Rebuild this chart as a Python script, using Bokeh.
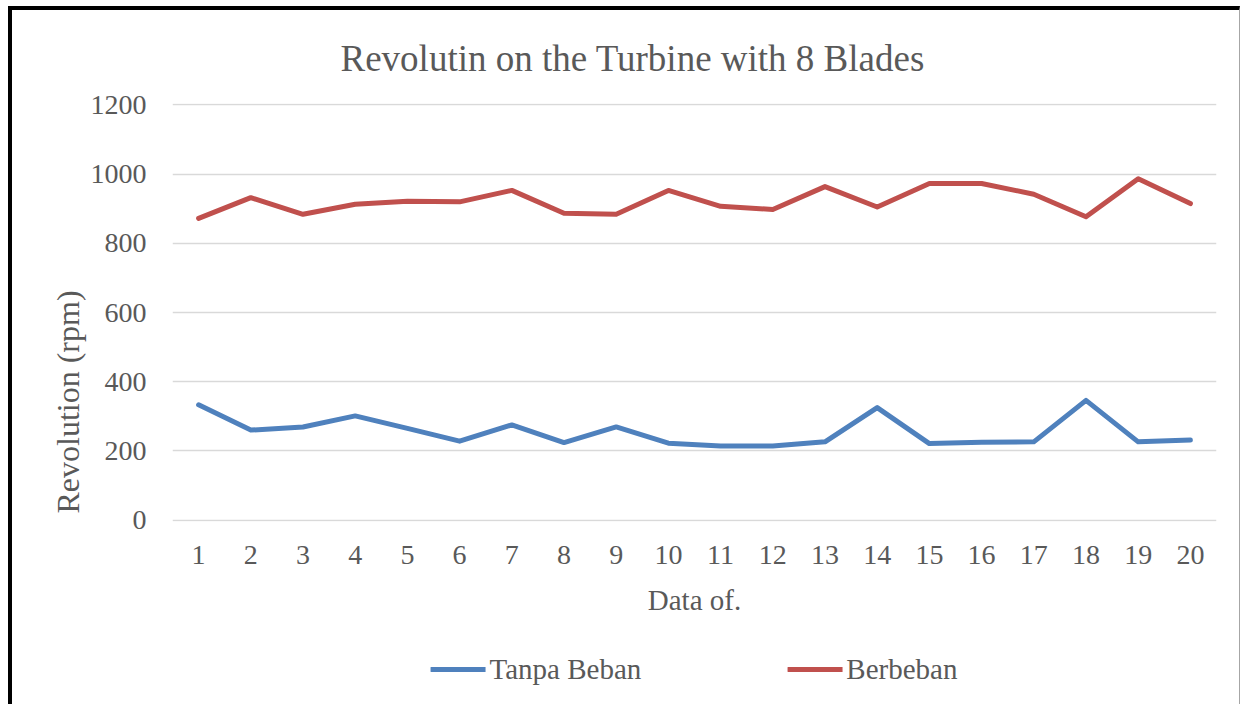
from bokeh.plotting import figure
from bokeh.models import Range1d, FixedTicker, Legend, LegendItem, Title
from bokeh.layouts import column
from bokeh.embed import file_html
from bokeh.resources import INLINE

# ---- data ----
data_no = list(range(1, 21))
x_tick_labels = [str(i) for i in data_no]
tanpa_beban = [333, 260, 269, 301, 265, 228, 275, 224, 269, 222,
               214, 214, 226, 325, 221, 225, 226, 346, 226, 231]
berbeban = [872, 932, 884, 913, 922, 920, 953, 887, 884, 953,
            907, 898, 964, 905, 973, 973, 942, 877, 987, 915]
y_ticks = [0, 200, 400, 600, 800, 1000, 1200]
series_names = ["Tanpa Beban", "Berbeban"]
series_colors = ["#4F81BD", "#C0504D"]
y_title = "Revolution (rpm)"
x_title = "Data of."
chart_title = "Revolutin on the Turbine with 8 Blades"

FONT = "Liberation Serif"
TXT = "#595959"

p = figure(width=1227, height=628, output_backend="svg", toolbar_location=None,
           x_range=Range1d(0.5, 20.5), y_range=Range1d(-4.3, 1204.3),
           min_border_left=160, min_border_right=23, min_border_top=93,
           min_border_bottom=117, title=chart_title)

p.outline_line_color = None
p.background_fill_color = "white"
p.border_fill_color = "white"

p.title.text_font = FONT
p.title.text_font_size = "37px"
p.title.text_font_style = "normal"
p.title.text_color = TXT
p.title.align = "left"
p.title.offset = 168
p.title.standoff = 50

# axes
p.xaxis.ticker = FixedTicker(ticks=data_no)
p.xaxis.major_label_overrides = {i: lab for i, lab in zip(data_no, x_tick_labels)}
p.yaxis.ticker = FixedTicker(ticks=y_ticks)
for ax in (p.xaxis[0], p.yaxis[0]):
    ax.axis_line_color = None
    ax.major_tick_line_color = None
    ax.minor_tick_line_color = None
    ax.major_tick_out = 0
    ax.major_tick_in = 0
    ax.minor_tick_out = 0
    ax.minor_tick_in = 0
    ax.major_label_text_font = FONT
    ax.major_label_text_font_size = "28px"
    ax.major_label_text_color = TXT
    ax.axis_label_text_font = FONT
    ax.axis_label_text_font_style = "normal"
    ax.axis_label_text_color = TXT

p.xaxis.major_label_standoff = 24
p.yaxis.major_label_standoff = 26
p.xaxis.axis_label = x_title
p.xaxis.axis_label_text_font_size = "29px"
p.xaxis.axis_label_standoff = 17

# y-axis title: placed low along the axis, as in the reference
ytitle = Title(text=y_title, align="left", offset=8, standoff=4,
               text_font=FONT, text_font_size="32px", text_font_style="normal",
               text_color=TXT)
p.add_layout(ytitle, "left")

p.xgrid.grid_line_color = None
p.ygrid.ticker = FixedTicker(ticks=y_ticks)
p.ygrid.grid_line_color = "#D9D9D9"
p.ygrid.grid_line_width = 1.5

r1 = p.line(data_no, tanpa_beban, line_color=series_colors[0], line_width=5,
            line_join="round", line_cap="round")
r2 = p.line(data_no, berbeban, line_color=series_colors[1], line_width=5,
            line_join="round", line_cap="round")

# ---- legend strip below the chart ----
lf = figure(width=1227, height=66, output_backend="svg", toolbar_location=None,
            x_range=Range1d(0, 1), y_range=Range1d(0, 1),
            x_axis_location=None, y_axis_location=None,
            min_border_left=160, min_border_right=23, min_border_top=0,
            min_border_bottom=4)
lf.outline_line_color = None
lf.xgrid.grid_line_color = None
lf.ygrid.grid_line_color = None
lf.background_fill_color = "white"
lf.border_fill_color = "white"
# proxy renderers (kept outside the visible range) that only supply legend glyphs
l1 = lf.line([-5, -4], [-5, -5], line_color=series_colors[0], line_width=5,
             line_cap="round")
l2 = lf.line([-5, -4], [-5, -5], line_color=series_colors[1], line_width=5,
             line_cap="round")

legend = Legend(items=[LegendItem(label=series_names[0], renderers=[l1]),
                       LegendItem(label=series_names[1], renderers=[l2])],
                location="center", orientation="horizontal",
                border_line_color=None, background_fill_alpha=0,
                padding=0, margin=0, spacing=146,
                glyph_width=55, glyph_height=29, label_height=29,
                label_standoff=4, label_text_font=FONT,
                label_text_font_size="29px", label_text_color=TXT)
lf.add_layout(legend, "center")

layout = column(p, lf, spacing=0)
layout.styles = {"box-sizing": "content-box",
                 "margin-left": "8px", "margin-top": "6px",
                 "border-left": "4px solid #000000", "border-top": "4px solid #000000",
                 "border-right": "1px solid #a6a6a6"}

open("out.html", "w").write(file_html(layout, INLINE))
